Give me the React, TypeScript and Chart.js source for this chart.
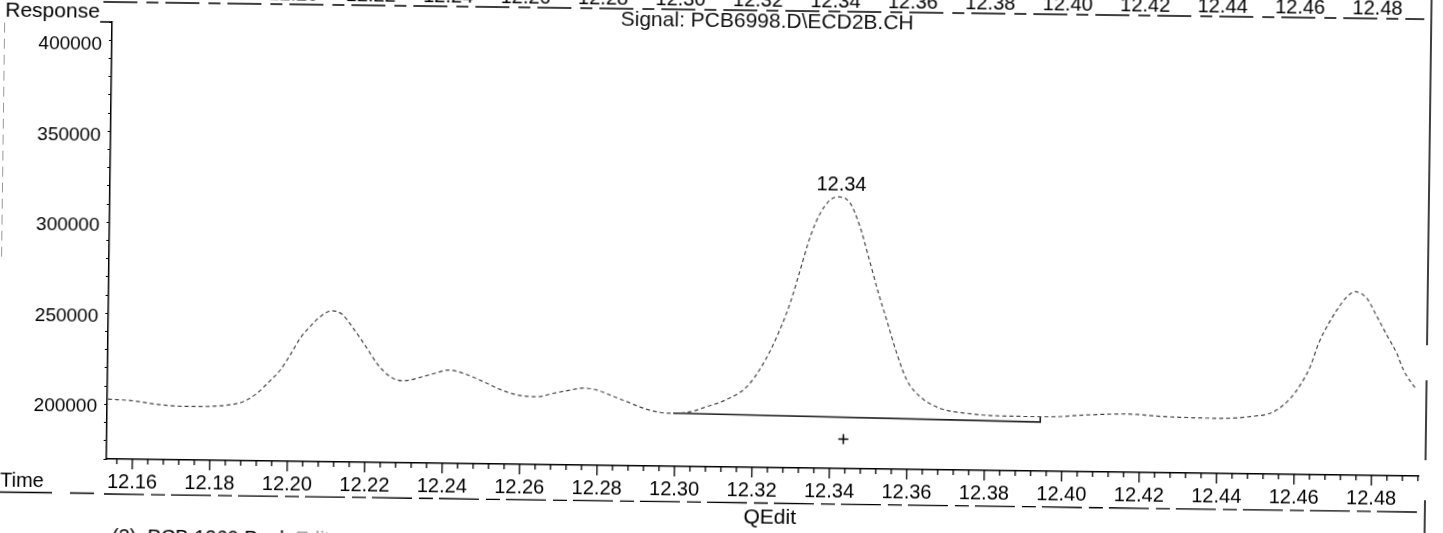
import React, { useEffect, useRef } from 'react';
import { Chart, registerables } from 'chart.js';

Chart.register(...registerables);

// ---- data ----
const signalTimes = [
  12.1535, 12.1605, 12.1644, 12.1696, 12.1747, 12.1799, 12.1858, 12.1884, 12.1919, 12.1953,
  12.1979, 12.2004, 12.2029, 12.2054, 12.2080, 12.2110, 12.2136, 12.2166, 12.2202, 12.2228,
  12.2263, 12.2297, 12.2340, 12.2383, 12.2413, 12.2452, 12.2504, 12.2547, 12.2591, 12.2642,
  12.2685, 12.2728, 12.2762, 12.2797, 12.2832, 12.2875, 12.2918, 12.2961, 12.2995, 12.3039,
  12.3081, 12.3133, 12.3184, 12.3226, 12.3260, 12.3293, 12.3318, 12.3343, 12.3368, 12.3393,
  12.3414, 12.3445, 12.3471, 12.3494, 12.3521, 12.3543, 12.3570, 12.3597, 12.3632, 12.3684,
  12.3753, 12.3848, 12.3969, 12.4055, 12.4166, 12.4270, 12.4399, 12.4485, 12.4545, 12.4588,
  12.4613, 12.4638, 12.4659, 12.4680, 12.4705, 12.4731, 12.4752, 12.4782, 12.4809, 12.4835,
  12.4861, 12.4879, 12.4914,
];
const signalResponses = [
  204400, 203500, 202300, 201200, 200900, 201100, 202400, 203900, 208600, 215700,
  221700, 230100, 239300, 245800, 251400, 254800, 253000, 245300, 234300, 226100,
  218800, 216600, 218600, 221300, 222900, 221200, 216700, 212600, 209600, 208800,
  210800, 212700, 213900, 212900, 210200, 206700, 203200, 201000, 200600, 201600,
  204500, 208700, 215800, 228800, 243700, 262200, 280700, 299200, 312200, 319600,
  321400, 317900, 305000, 288500, 268300, 253700, 235400, 220700, 211600, 205300,
  202700, 201500, 201400, 202600, 203500, 202300, 201800, 203000, 205800, 213300,
  220800, 230900, 243900, 253200, 262400, 269900, 272700, 269100, 259100, 249000,
  239000, 229800, 218800,
];
const baselineTimes = [12.2995, 12.3943, 12.3943];
const baselineResponses = [200700, 198450, 201200];
const markerTimes = [12.3435];
const markerResponses = [187600];
const peakLabelTimes = [12.3414];
const peakLabelResponses = [321400];
const peakLabelTexts = ['12.34'];

const xTickLabels = [
  '12.16', '12.18', '12.20', '12.22', '12.24', '12.26', '12.28', '12.30', '12.32',
  '12.34', '12.36', '12.38', '12.40', '12.42', '12.44', '12.46', '12.48',
];
const yTickLabels = ['200000', '250000', '300000', '350000', '400000'];
const xAxisMin = 12.1533;
const xAxisMax = 12.4921;
const yAxisMin = 171300;
const yAxisMax = 412700;

const titleText = 'Signal: PCB6998.D\\ECD2B.CH';
const yAxisTitle = 'Response';
const xAxisTitle = 'Time';
const footerText = 'QEdit';
const bottomTextMain = '(3)  PCB 1260 Peak ';
const bottomTextGrey = 'Edit';

const FONT = "'Liberation Sans', Arial, Helvetica, sans-serif";
const O = 20; // canvas overscan offset

function xLabelFor(v: number): string {
  const hit = xTickLabels.find((l) => Math.abs(Number(l) - v) < 1e-6);
  return hit ?? '';
}

const decorPlugin = {
  id: 'decor',
  afterDraw(chart: any) {
    const ctx: CanvasRenderingContext2D = chart.ctx;
    const xs = chart.scales.x;
    const ys = chart.scales.y;
    const area = chart.chartArea;
    ctx.save();

    // x tick marks (minor + major)
    ctx.strokeStyle = '#000';
    ctx.lineWidth = 1.3;
    xs.ticks.forEach((t: any) => {
      const px = xs.getPixelForValue(t.value);
      const major = xLabelFor(t.value) !== '';
      ctx.beginPath();
      ctx.moveTo(px, area.bottom);
      ctx.lineTo(px, area.bottom + (major ? 10 : 5));
      ctx.stroke();
    });

    // y tick labels
    ctx.fillStyle = '#000';
    ctx.font = `19px ${FONT}`;
    ctx.textAlign = 'right';
    ctx.textBaseline = 'middle';
    yTickLabels.forEach((l) => {
      ctx.fillText(l, area.left - 10, ys.getPixelForValue(Number(l)));
    });

    // top repeated time row (cut off by the page edge)
    ctx.font = `20px ${FONT}`;
    ctx.textAlign = 'center';
    ctx.textBaseline = 'alphabetic';
    xTickLabels.forEach((l) => {
      ctx.fillText(l, xs.getPixelForValue(Number(l)), O + 6);
    });
    ctx.setLineDash([34, 9, 12, 7]);
    ctx.lineWidth = 1.3;
    ctx.beginPath();
    ctx.moveTo(O + 100, O + 10);
    ctx.lineTo(area.right, O + 10);
    ctx.stroke();
    ctx.setLineDash([]);

    // Response label + corner stub
    ctx.textAlign = 'left';
    ctx.font = `21px ${FONT}`;
    ctx.fillText(yAxisTitle, O + 2, O + 25.5);
    ctx.lineWidth = 1.5;
    ctx.beginPath();
    ctx.moveTo(O + 97, area.top);
    ctx.lineTo(area.left, area.top);
    ctx.stroke();

    // Signal title
    ctx.textAlign = 'center';
    ctx.fillStyle = '#111';
    ctx.font = `21px ${FONT}`;
    ctx.fillText(titleText, O + 764, O + 27);

    // peak label
    ctx.fillStyle = '#000';
    ctx.font = `20px ${FONT}`;
    ctx.textBaseline = 'middle';
    peakLabelTexts.forEach((txt, i) => {
      const px = xs.getPixelForValue(peakLabelTimes[i]);
      const py = ys.getPixelForValue(peakLabelResponses[i]);
      ctx.fillText(txt, px + 3, py - 12);
    });

    // Time label and underline row
    ctx.textBaseline = 'alphabetic';
    ctx.textAlign = 'left';
    ctx.fillText(xAxisTitle, O + 3, O + 496);
    ctx.lineWidth = 1.3;
    ctx.beginPath();
    ctx.moveTo(O + 0, O + 501.5);
    ctx.lineTo(O + 55, O + 501.5);
    ctx.moveTo(O + 73, O + 501.5);
    ctx.lineTo(O + 97, O + 501.5);
    ctx.stroke();
    ctx.setLineDash([40, 7, 14, 6]);
    ctx.beginPath();
    ctx.moveTo(area.left - 2, O + 502);
    ctx.lineTo(area.right + 2, O + 503);
    ctx.stroke();
    ctx.setLineDash([]);

    // QEdit
    ctx.textAlign = 'center';
    ctx.font = `21px ${FONT}`;
    ctx.fillText(footerText, O + 773, O + 522.5);

    // bottom cut-off text
    ctx.textAlign = 'left';
    ctx.font = `20px ${FONT}`;
    ctx.fillText(bottomTextMain, O + 115.5, O + 551);
    const w = ctx.measureText(bottomTextMain).width;
    ctx.fillStyle = '#999';
    ctx.fillText(bottomTextGrey, O + 115.5 + w, O + 551);

    // page frame lines
    ctx.strokeStyle = '#999';
    ctx.lineWidth = 1;
    ctx.setLineDash([10, 6]);
    ctx.beginPath();
    ctx.moveTo(O + 1.5, O + 32);
    ctx.lineTo(O + 1.5, O + 270);
    ctx.stroke();
    ctx.setLineDash([]);
    ctx.strokeStyle = '#000';
    ctx.lineWidth = 1.5;
    ctx.beginPath();
    ctx.moveTo(O + 1428, O - 20);
    ctx.lineTo(O + 1428, O + 336);
    ctx.moveTo(O + 1428, O + 371);
    ctx.lineTo(O + 1428, O + 451);
    ctx.moveTo(O + 1428, O + 491);
    ctx.lineTo(O + 1428, O + 560);
    ctx.stroke();

    ctx.restore();
  },
};

export default function App() {
  const ref = useRef<HTMLCanvasElement>(null);

  useEffect(() => {
    if (!ref.current) return;
    Chart.defaults.font.family = FONT;
    const chart = new Chart(ref.current, {
      type: 'scatter',
      data: {
        datasets: [
          {
            data: signalTimes.map((t, i) => ({ x: t, y: signalResponses[i] })),
            showLine: true,
            pointRadius: 0,
            borderColor: '#444',
            borderWidth: 1.2,
            borderDash: [4, 3],
            cubicInterpolationMode: 'monotone',
          } as any,
          {
            data: baselineTimes.map((t, i) => ({ x: t, y: baselineResponses[i] })),
            showLine: true,
            pointRadius: 0,
            borderColor: '#222',
            borderWidth: 1.6,
            tension: 0,
          } as any,
          {
            data: markerTimes.map((t, i) => ({ x: t, y: markerResponses[i] })),
            showLine: false,
            pointStyle: 'cross',
            pointRadius: 5,
            borderColor: '#000',
            borderWidth: 1.5,
          } as any,
        ],
      },
      options: {
        responsive: false,
        animation: false,
        devicePixelRatio: 1,
        events: [],
        layout: { padding: { left: 0, right: 42, top: 50, bottom: 0 } },
        plugins: {
          legend: { display: false },
          tooltip: { enabled: false },
          title: { display: false },
        },
        scales: {
          x: {
            type: 'linear',
            position: 'bottom',
            min: xAxisMin,
            max: xAxisMax,
            grid: { display: false, drawTicks: false },
            border: { display: true, color: '#000', width: 1.5 },
            ticks: {
              stepSize: 0.004,
              includeBounds: false,
              autoSkip: false,
              maxRotation: 0,
              minRotation: 0,
              padding: 11,
              color: '#000',
              font: { size: 20, family: FONT },
              callback: (v: any) => xLabelFor(Number(v)),
            },
            afterFit: (s: any) => {
              s.height = 86;
            },
          },
          y: {
            type: 'linear',
            position: 'left',
            min: yAxisMin,
            max: yAxisMax,
            grid: {
              display: true,
              drawOnChartArea: false,
              drawTicks: true,
              tickLength: 3,
              color: '#000',
              lineWidth: 1,
            },
            border: { display: true, color: '#000', width: 1.5 },
            ticks: {
              display: false,
              stepSize: 10000,
              includeBounds: false,
              autoSkip: false,
            },
            afterFit: (s: any) => {
              s.width = 129;
            },
          },
        },
      } as any,
      plugins: [decorPlugin],
    });
    return () => chart.destroy();
  }, []);

  return (
    <div
      style={{
        position: 'fixed',
        left: 0,
        top: 0,
        width: 1443,
        height: 533,
        overflow: 'hidden',
        background: '#fff',
      }}
    >
      <canvas
        ref={ref}
        width={1483}
        height={573}
        style={{
          position: 'absolute',
          left: -20,
          top: -20,
          width: 1483,
          height: 573,
          transform: 'rotate(0.75deg)',
          transformOrigin: '50% 50%',
        }}
      />
    </div>
  );
}
